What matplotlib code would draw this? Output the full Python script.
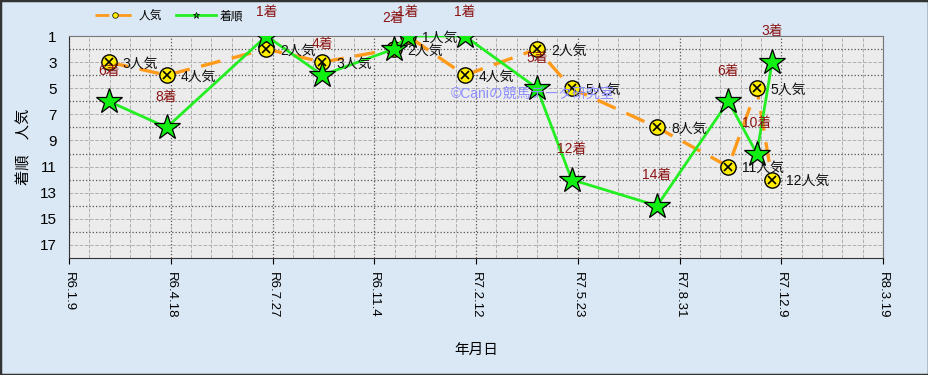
import numpy as np
import pandas as pd
import matplotlib
matplotlib.use("Agg")
import matplotlib.pyplot as plt
import matplotlib.dates as mdates
from matplotlib.lines import Line2D
from matplotlib.patches import Rectangle
from matplotlib.ticker import FixedLocator, NullFormatter, FuncFormatter

plt.rcParams['font.family'] = ['Liberation Sans', 'Noto Sans CJK JP']

# race data
race_dates = ['2024-02-17', '2024-04-14', '2024-07-21', '2024-09-14', '2024-11-23',
              '2024-12-07', '2025-02-01', '2025-04-13', '2025-05-17', '2025-08-09',
              '2025-10-18', '2025-11-15', '2025-11-30']
popularity = [3, 4, 2, 3, 2, 1, 4, 2, 5, 8, 11, 5, 12]
finish = [6, 8, 1, 4, 2, 1, 1, 5, 12, 14, 6, 10, 3]

tick_dates = pd.date_range('2024-01-09', periods=9, freq='100D')
tick_labels = ['R6.1.9', 'R6.4.18', 'R6.7.27', 'R6.11.4', 'R7.2.12',
               'R7.5.23', 'R7.8.31', 'R7.12.9', 'R8.3.19']
ytick_vals = [1, 3, 5, 7, 9, 11, 13, 15, 17]

x = pd.to_datetime(race_dates)

fig = plt.figure(figsize=(9.29, 3.75), dpi=100, facecolor='#dae7f4')
ax = fig.add_axes([69/929, 1-258/375, (883-69)/929, (258-36)/375])
ax.set_facecolor('#ececec')

ax.plot(x, popularity, color='#ff9a1a', lw=2.4, ls=(0, (6, 3.5)), zorder=3)
ax.plot(x, popularity, 'o', ms=11, mfc='#ffee00', mec='black', mew=1.0, zorder=4)
ax.plot(x, popularity, 'x', ms=6, mec='black', mew=1.2, zorder=5)
ax.plot(x, finish, color='#22ee22', lw=2.0, zorder=6)
ax.plot(x, finish, '*', ms=19, mfc='#11ee11', mec='black', mew=0.9, zorder=7)

for xi, p in zip(x, popularity):
    ax.annotate(f'{p}人気', (xi, p), xytext=(10, -1), textcoords='offset points',
                ha='left', va='center', fontsize=10, color='#111111', zorder=8)
for xi, f in zip(x, finish):
    # label sits about 30px above the star, but not higher than the top margin
    ly = max(f - 2.35, -0.85)
    ax.text(xi, ly, f'{f}着', ha='center', va='center', fontsize=10,
            color='#8b1515', zorder=8, clip_on=False)

ax.text(0.57, 0.74, '©Caniの競馬データ研究室', transform=ax.transAxes, fontsize=10,
        color='#8c8cff', ha='center', va='center', zorder=9)

# axes
ax.set_xlim(tick_dates[0], tick_dates[-1])
ax.set_ylim(18, 1)
ax.set_xticks(tick_dates)
ax.set_xticklabels(tick_labels, rotation=270, fontsize=9.5)
ax.xaxis.set_minor_locator(FixedLocator(mdates.date2num(
    pd.date_range(tick_dates[0], tick_dates[-1], freq='20D'))))
ax.yaxis.set_major_locator(FixedLocator(np.arange(2, 18, 2)))
ax.yaxis.set_major_formatter(NullFormatter())
ax.yaxis.set_minor_locator(FixedLocator(ytick_vals))
ax.yaxis.set_minor_formatter(FuncFormatter(lambda v, pos: f'{int(v)}'))
ax.tick_params(axis='y', which='both', length=0, labelsize=11, pad=9)
ax.tick_params(axis='x', which='major', length=4, pad=6)
ax.tick_params(axis='x', which='minor', length=0)

ax.grid(which='major', color='#555555', ls=':', lw=0.9)
ax.grid(which='minor', color='#b0b0b0', ls='--', lw=0.7)
ax.set_axisbelow(True)
for s in ax.spines.values():
    s.set_color('#777777')
ax.spines['left'].set_color('#333333')
ax.spines['bottom'].set_color('#333333')

ax.set_ylabel('着順　人気', fontsize=11, labelpad=6)
ax.set_xlabel('年月日', fontsize=10.5, labelpad=18)

handles = [Line2D([], [], color='#ff9a1a', lw=2, ls=(0, (5, 3)), marker='o', ms=4,
                  mfc='#ffee00', mec='black', mew=0.5),
           Line2D([], [], color='#22ee22', lw=2, marker='*', ms=5, mfc='#11ee11', mec='black', mew=0.5)]
fig.legend(handles, ['人気', '着順'], loc='upper left', bbox_to_anchor=(84/929, 1.0),
           ncol=2, frameon=False, fontsize=8.5, handlelength=3.4,
           handletextpad=0.3, columnspacing=1.2)

fig.patches.append(Rectangle((0, 0), 1, 1, transform=fig.transFigure, fill=False,
                             edgecolor='#333333', lw=2.5))

fig.savefig('out.png', dpi=100, facecolor=fig.get_facecolor())
